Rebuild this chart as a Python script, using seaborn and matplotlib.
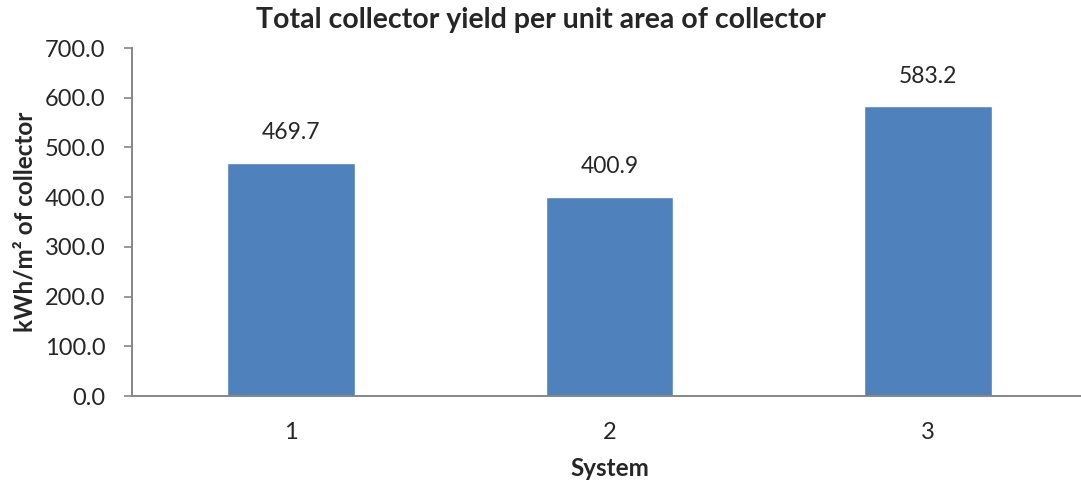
import matplotlib
matplotlib.use("Agg")
import matplotlib.pyplot as plt
import seaborn as sns
import pandas as pd

systems = ["1", "2", "3"]
yield_values = [469.7, 400.9, 583.2]
y_ticks = [0, 100, 200, 300, 400, 500, 600, 700]

sns.set_theme(style="white")
plt.rcParams["font.family"] = ["Lato", "DejaVu Sans"]

df = pd.DataFrame({"System": systems, "Yield": yield_values})

fig = plt.figure(figsize=(10.81, 4.84), dpi=100)
ax = fig.add_axes([0.1221, 0.1818, 0.8835, 0.7190])

sns.barplot(data=df, x="System", y="Yield", color="#4F81BD", saturation=1,
            width=0.4, ax=ax)

ax.set_ylim(0, 700)
ax.set_yticks(y_ticks)
ax.set_yticklabels([f"{v:.1f}" for v in y_ticks], fontsize=17)
ax.tick_params(axis="x", labelsize=17, length=0, pad=19)
ax.tick_params(axis="y", length=6, width=1.2, color="#868686", direction="out",
               left=True, pad=13)

for side in ["top", "right"]:
    ax.spines[side].set_visible(False)
for side in ["left", "bottom"]:
    ax.spines[side].set_color("#868686")
    ax.spines[side].set_linewidth(1.4)

for i, v in enumerate(yield_values):
    ax.annotate(f"{v:.1f}", (i, v), xytext=(0, 14), textcoords="offset points",
                ha="center", va="bottom", fontsize=16.5)

ax.set_xlabel("System", fontsize=17.5, fontweight="bold", labelpad=10)
ax.set_ylabel("kWh/m² of collector", fontsize=17.5, fontweight="bold", labelpad=6)
fig.text(0.5 * (251 + 831) / 1081, 1 - 20 / 484,
         "Total collector yield per unit area of collector",
         fontsize=20.5, fontweight="bold", ha="center", va="center")

fig.savefig("out.png", dpi=100, facecolor="white")
